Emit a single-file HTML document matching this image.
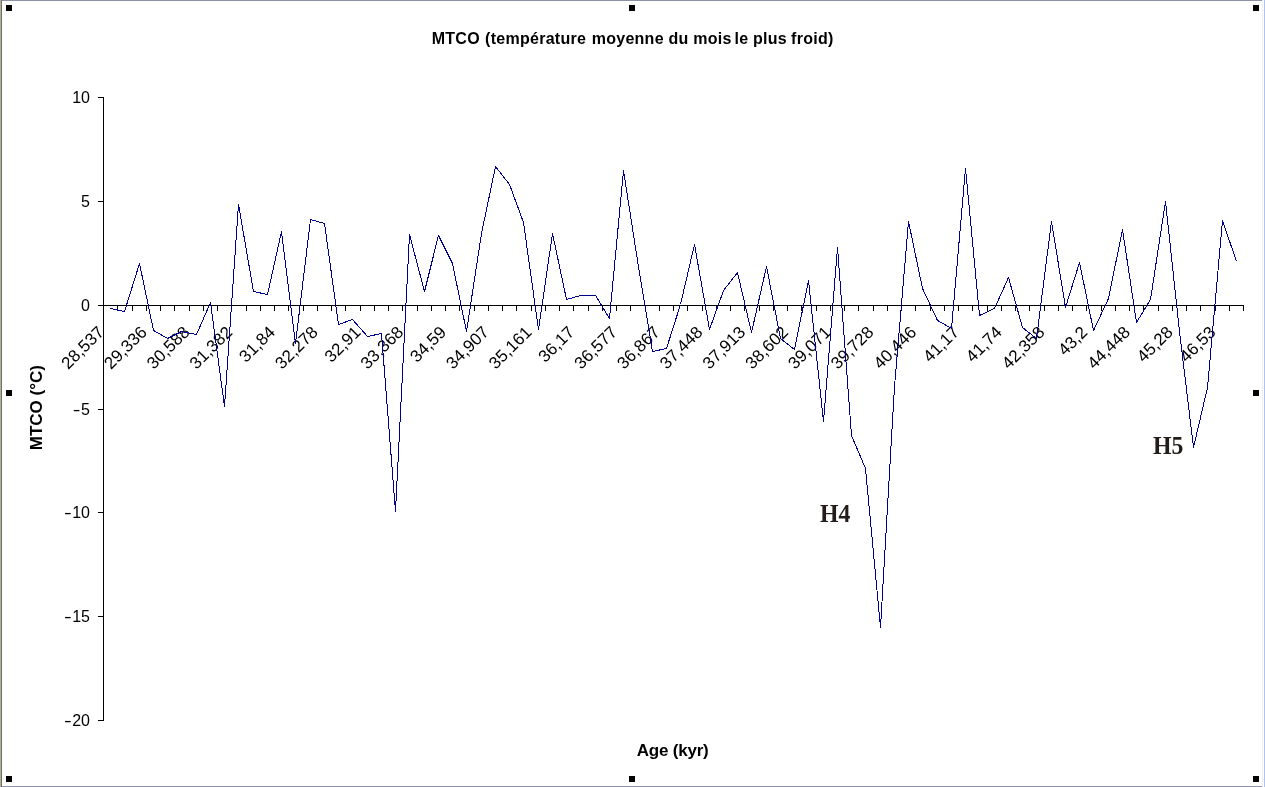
<!DOCTYPE html>
<html><head><meta charset="utf-8"><style>
html,body{margin:0;padding:0;background:#fff;}
body{width:1265px;height:787px;overflow:hidden;position:relative;}
svg{position:absolute;left:0;top:0;display:block;will-change:transform;}
.t{font-family:"Liberation Sans",Arial,sans-serif;}
</style></head><body>
<svg width="1265" height="787" viewBox="0 0 1265 787">
<rect x="0" y="0" width="1265" height="787" fill="#ffffff"/>
<!-- window borders -->
<rect x="0" y="0" width="1" height="787" fill="#b2b09f"/>
<rect x="1" y="0" width="1" height="787" fill="#737262"/>
<rect x="2" y="0" width="1260" height="1" fill="#8e92a8"/>
<rect x="2" y="786" width="1260" height="1" fill="#8e92a8"/>
<rect x="1262" y="0" width="1" height="787" fill="#f0efe8"/>
<rect x="1264" y="0" width="1" height="787" fill="#aec3f0"/>
<!-- handles -->
<g fill="#000">
<rect x="6" y="5" width="6" height="6"/><rect x="629" y="5" width="6" height="6"/><rect x="1253" y="5" width="6" height="6"/>
<rect x="6" y="390" width="6" height="6"/><rect x="1253" y="390" width="6" height="6"/>
<rect x="6" y="776" width="6" height="6"/><rect x="629" y="776" width="6" height="6"/><rect x="1253" y="776" width="6" height="6"/>
</g>
<!-- title -->
<text class="t" y="43.7" font-size="16" letter-spacing="0.27" font-weight="bold" fill="#000"><tspan x="431.7">MTCO </tspan><tspan x="485.1">(température </tspan><tspan x="591.7">moyenne </tspan><tspan x="668.5">du </tspan><tspan x="693.2">mois </tspan><tspan x="734.6">le </tspan><tspan x="752.9">plus </tspan><tspan x="791.1">froid)</tspan></text>
<!-- axis titles -->
<text class="t" transform="translate(42.4,407.7) rotate(-90)" text-anchor="middle" font-size="17" font-weight="bold" fill="#000">MTCO (°C)</text>
<text class="t" x="672.6" y="755.9" text-anchor="middle" font-size="17" letter-spacing="-0.2" font-weight="bold" fill="#000">Age (kyr)</text>
<!-- axes -->
<g fill="#000" shape-rendering="crispEdges">
<rect x="103" y="97" width="1" height="624"/>
<rect x="98" y="305" width="1146" height="1"/>
<rect x="98" y="97" width="5" height="1"/><rect x="98" y="201" width="5" height="1"/><rect x="98" y="305" width="5" height="1"/><rect x="98" y="409" width="5" height="1"/><rect x="98" y="512" width="5" height="1"/><rect x="98" y="616" width="5" height="1"/><rect x="98" y="720" width="5" height="1"/><rect x="117" y="306" width="1" height="5"/><rect x="132" y="306" width="1" height="5"/><rect x="146" y="306" width="1" height="5"/><rect x="160" y="306" width="1" height="5"/><rect x="174" y="306" width="1" height="5"/><rect x="189" y="306" width="1" height="5"/><rect x="203" y="306" width="1" height="5"/><rect x="217" y="306" width="1" height="5"/><rect x="231" y="306" width="1" height="5"/><rect x="246" y="306" width="1" height="5"/><rect x="260" y="306" width="1" height="5"/><rect x="274" y="306" width="1" height="5"/><rect x="288" y="306" width="1" height="5"/><rect x="303" y="306" width="1" height="5"/><rect x="317" y="306" width="1" height="5"/><rect x="331" y="306" width="1" height="5"/><rect x="345" y="306" width="1" height="5"/><rect x="360" y="306" width="1" height="5"/><rect x="374" y="306" width="1" height="5"/><rect x="388" y="306" width="1" height="5"/><rect x="402" y="306" width="1" height="5"/><rect x="417" y="306" width="1" height="5"/><rect x="431" y="306" width="1" height="5"/><rect x="445" y="306" width="1" height="5"/><rect x="459" y="306" width="1" height="5"/><rect x="474" y="306" width="1" height="5"/><rect x="488" y="306" width="1" height="5"/><rect x="502" y="306" width="1" height="5"/><rect x="516" y="306" width="1" height="5"/><rect x="531" y="306" width="1" height="5"/><rect x="545" y="306" width="1" height="5"/><rect x="559" y="306" width="1" height="5"/><rect x="573" y="306" width="1" height="5"/><rect x="588" y="306" width="1" height="5"/><rect x="602" y="306" width="1" height="5"/><rect x="616" y="306" width="1" height="5"/><rect x="630" y="306" width="1" height="5"/><rect x="645" y="306" width="1" height="5"/><rect x="659" y="306" width="1" height="5"/><rect x="673" y="306" width="1" height="5"/><rect x="687" y="306" width="1" height="5"/><rect x="702" y="306" width="1" height="5"/><rect x="716" y="306" width="1" height="5"/><rect x="730" y="306" width="1" height="5"/><rect x="744" y="306" width="1" height="5"/><rect x="759" y="306" width="1" height="5"/><rect x="773" y="306" width="1" height="5"/><rect x="787" y="306" width="1" height="5"/><rect x="801" y="306" width="1" height="5"/><rect x="816" y="306" width="1" height="5"/><rect x="830" y="306" width="1" height="5"/><rect x="844" y="306" width="1" height="5"/><rect x="858" y="306" width="1" height="5"/><rect x="873" y="306" width="1" height="5"/><rect x="887" y="306" width="1" height="5"/><rect x="901" y="306" width="1" height="5"/><rect x="915" y="306" width="1" height="5"/><rect x="930" y="306" width="1" height="5"/><rect x="944" y="306" width="1" height="5"/><rect x="958" y="306" width="1" height="5"/><rect x="972" y="306" width="1" height="5"/><rect x="987" y="306" width="1" height="5"/><rect x="1001" y="306" width="1" height="5"/><rect x="1015" y="306" width="1" height="5"/><rect x="1029" y="306" width="1" height="5"/><rect x="1044" y="306" width="1" height="5"/><rect x="1058" y="306" width="1" height="5"/><rect x="1072" y="306" width="1" height="5"/><rect x="1086" y="306" width="1" height="5"/><rect x="1101" y="306" width="1" height="5"/><rect x="1115" y="306" width="1" height="5"/><rect x="1129" y="306" width="1" height="5"/><rect x="1143" y="306" width="1" height="5"/><rect x="1158" y="306" width="1" height="5"/><rect x="1172" y="306" width="1" height="5"/><rect x="1186" y="306" width="1" height="5"/><rect x="1200" y="306" width="1" height="5"/><rect x="1215" y="306" width="1" height="5"/><rect x="1229" y="306" width="1" height="5"/><rect x="1243" y="306" width="1" height="5"/>
</g>
<!-- y labels -->
<g class="t" font-size="16" fill="#000">
<text x="90" y="103.3" text-anchor="end">10</text><text x="90" y="207.3" text-anchor="end">5</text><text x="90" y="311.3" text-anchor="end">0</text><text x="90" y="415.3" text-anchor="end">5</text><text transform="translate(80.50,415.3) scale(1.45,1)" text-anchor="end">-</text><text x="90" y="518.3" text-anchor="end">10</text><text transform="translate(71.61,518.3) scale(1.45,1)" text-anchor="end">-</text><text x="90" y="622.3" text-anchor="end">15</text><text transform="translate(71.61,622.3) scale(1.45,1)" text-anchor="end">-</text><text x="90" y="726.3" text-anchor="end">20</text><text transform="translate(71.61,726.3) scale(1.45,1)" text-anchor="end">-</text>
</g>
<!-- x labels -->
<g class="t" font-size="17" fill="#000">
<text transform="translate(105.12,333.20) rotate(-45)" text-anchor="end">28,537</text><text transform="translate(147.88,333.20) rotate(-45)" text-anchor="end">29,336</text><text transform="translate(190.62,333.20) rotate(-45)" text-anchor="end">30,588</text><text transform="translate(233.38,333.20) rotate(-45)" text-anchor="end">31,382</text><text transform="translate(276.12,333.20) rotate(-45)" text-anchor="end">31,84</text><text transform="translate(318.88,333.20) rotate(-45)" text-anchor="end">32,278</text><text transform="translate(361.62,333.20) rotate(-45)" text-anchor="end">32,91</text><text transform="translate(404.38,333.20) rotate(-45)" text-anchor="end">33,368</text><text transform="translate(447.12,333.20) rotate(-45)" text-anchor="end">34,59</text><text transform="translate(489.88,333.20) rotate(-45)" text-anchor="end">34,907</text><text transform="translate(532.62,333.20) rotate(-45)" text-anchor="end">35,161</text><text transform="translate(575.38,333.20) rotate(-45)" text-anchor="end">36,17</text><text transform="translate(618.12,333.20) rotate(-45)" text-anchor="end">36,577</text><text transform="translate(660.88,333.20) rotate(-45)" text-anchor="end">36,867</text><text transform="translate(703.62,333.20) rotate(-45)" text-anchor="end">37,448</text><text transform="translate(746.38,333.20) rotate(-45)" text-anchor="end">37,913</text><text transform="translate(789.12,333.20) rotate(-45)" text-anchor="end">38,602</text><text transform="translate(831.88,333.20) rotate(-45)" text-anchor="end">39,071</text><text transform="translate(874.62,333.20) rotate(-45)" text-anchor="end">39,728</text><text transform="translate(917.38,333.20) rotate(-45)" text-anchor="end">40,446</text><text transform="translate(960.12,333.20) rotate(-45)" text-anchor="end">41,17</text><text transform="translate(1002.88,333.20) rotate(-45)" text-anchor="end">41,74</text><text transform="translate(1045.62,333.20) rotate(-45)" text-anchor="end">42,358</text><text transform="translate(1088.38,333.20) rotate(-45)" text-anchor="end">43,2</text><text transform="translate(1131.12,333.20) rotate(-45)" text-anchor="end">44,448</text><text transform="translate(1173.88,333.20) rotate(-45)" text-anchor="end">45,28</text><text transform="translate(1216.62,333.20) rotate(-45)" text-anchor="end">46,53</text>
</g>
<!-- data -->
<polyline points="110.5,308.5 124.5,311.5 139.5,263.5 153.5,330.5 167.5,338.5 181.5,331.5 196.5,334.5 210.5,302.5 224.5,406.5 238.5,204.5 253.5,291.5 267.5,294.5 281.5,231.5 295.5,343.5 310.5,219.5 324.5,223.5 338.5,324.5 352.5,319.5 367.5,336.5 381.5,333.5 395.5,511.5 409.5,234.5 424.5,291.5 438.5,235.5 452.5,263.5 466.5,331.5 481.5,233.5 495.5,166.5 509.5,184.5 523.5,222.5 538.5,329.5 552.5,233.5 566.5,299.5 580.5,295.5 595.5,295.5 609.5,318.5 623.5,170.5 637.5,260.5 652.5,351.5 666.5,348.5 680.5,304.5 694.5,244.5 709.5,329.5 723.5,290.5 737.5,272.5 751.5,332.5 766.5,266.5 780.5,338.5 794.5,349.5 808.5,280.5 823.5,421.5 837.5,247.5 851.5,435.5 865.5,468.5 880.5,627.5 894.5,386.5 908.5,221.5 922.5,288.5 937.5,320.5 951.5,328.5 965.5,168.5 979.5,315.5 994.5,308.5 1008.5,277.5 1022.5,327.5 1036.5,338.5 1051.5,221.5 1065.5,307.5 1079.5,262.5 1093.5,330.5 1108.5,298.5 1122.5,229.5 1136.5,322.5 1150.5,299.5 1165.5,201.5 1179.5,331.5 1193.5,447.5 1207.5,387.5 1222.5,220.5 1236.5,261.5" fill="none" stroke="#000090" stroke-width="1" stroke-linejoin="bevel" shape-rendering="crispEdges"/>
<!-- annotations -->
<g font-family="'Liberation Serif','Times New Roman',serif" font-weight="bold" font-size="24.5" fill="#221c1a">
<text transform="translate(820,522) scale(0.97,1)">H4</text>
<text transform="translate(1153,454) scale(0.97,1)">H5</text>
</g>
</svg>
</body></html>
